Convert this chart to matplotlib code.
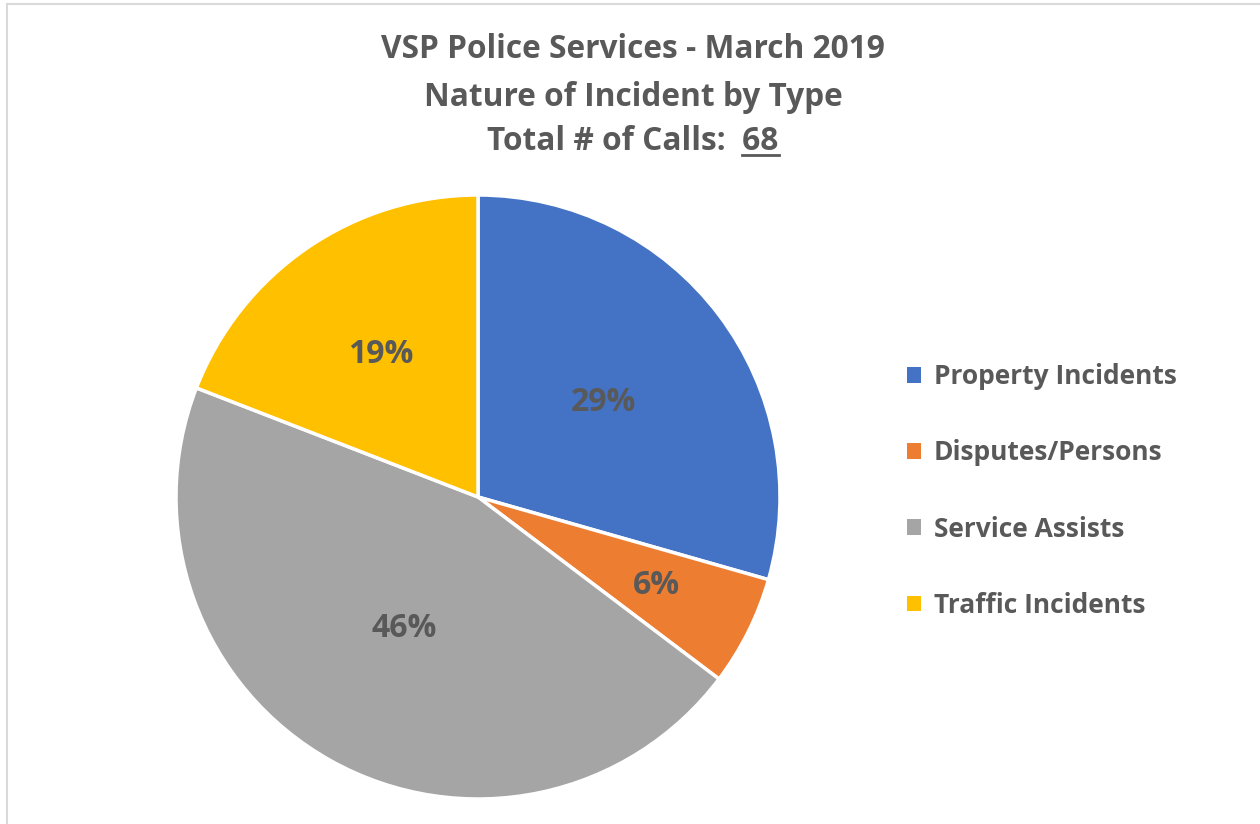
import numpy as np
import matplotlib
matplotlib.use("Agg")
import matplotlib.pyplot as plt
from matplotlib.lines import Line2D

plt.rcParams['font.family'] = ['Open Sans', 'DejaVu Sans']
plt.rcParams['font.weight'] = 'bold'

categories = ["Property Incidents", "Disputes/Persons", "Service Assists", "Traffic Incidents"]
calls = [20, 4, 31, 13]
colors = ["#4472C4", "#ED7D31", "#A5A5A5", "#FFC000"]
label_dist = [0.52, 0.66, 0.50, 0.57]
title_lines = ["VSP Police Services - March 2019", "Nature of Incident by Type"]
total_label = "Total # of Calls:  "

text_col = "#595959"
fs_title = 22.8
fs_pct = 23
fs_leg = 19
W, H = 1260, 824
fig = plt.figure(figsize=(W / 100, H / 100), dpi=100)

# pie axes in pixel terms: centre (478, 497), radius 302
cx, cy, r = 478, 497, 302
ax = fig.add_axes([(cx - r) / W, (H - cy - r) / H, 2 * r / W, 2 * r / H])
wedges, texts, autotexts = ax.pie(
    calls, colors=colors, startangle=90, counterclock=False,
    autopct=lambda p: "%.0f%%" % p, pctdistance=0.55,
    wedgeprops=dict(edgecolor="white", linewidth=2.5),
    textprops=dict(color=text_col, fontsize=fs_pct, fontweight="bold"))
for w, t, d in zip(wedges, autotexts, label_dist):
    ang = np.deg2rad((w.theta1 + w.theta2) / 2)
    t.set_position((d * np.cos(ang), d * np.sin(ang)))
ax.set_xlim(-1, 1)
ax.set_ylim(-1, 1)
ax.set_aspect("equal")
ax.axis("off")

# titles
fig.text(633 / W, 1 - 50 / H, title_lines[0], ha="center", va="center",
         fontsize=fs_title, fontweight="bold", color=text_col)
fig.text(633 / W, 1 - 97 / H, title_lines[1], ha="center", va="center",
         fontsize=fs_title, fontweight="bold", color=text_col)
full = total_label + str(sum(calls))
t3 = fig.text(633 / W, 1 - 150 / H, full, ha="center", va="baseline",
              fontsize=fs_title, fontweight="bold", color=text_col)
fig.canvas.draw()
rend = fig.canvas.get_renderer()
bb = t3.get_window_extent(rend)
tmp = fig.text(0, 0, str(sum(calls)), fontsize=fs_title, fontweight="bold")
wn = tmp.get_window_extent(rend).width
tmp.remove()
yline = 1 - 155 / H
fig.add_artist(Line2D([(bb.x1 - wn) / W, bb.x1 / W], [yline, yline],
                      color=text_col, linewidth=2))

# legend
fig.legend(wedges, categories, loc="center left",
           bbox_to_anchor=(907 / W, 1 - 491 / H), frameon=False,
           labelcolor=text_col, prop=dict(weight="bold", size=fs_leg),
           handlelength=0.52, handleheight=0.52, handletextpad=0.5,
           labelspacing=1.86, borderpad=0, borderaxespad=0)
for h in fig.legends[0].legend_handles:
    h.set_edgecolor("none")

# chart border
fig.add_artist(Line2D([6.5 / W, 6.5 / W], [0, 1 - 4 / H], color="#D9D9D9", linewidth=1.5))
fig.add_artist(Line2D([6.5 / W, 1], [1 - 4 / H, 1 - 4 / H], color="#D9D9D9", linewidth=1.5))

fig.savefig("out.png", dpi=100, facecolor="white")
